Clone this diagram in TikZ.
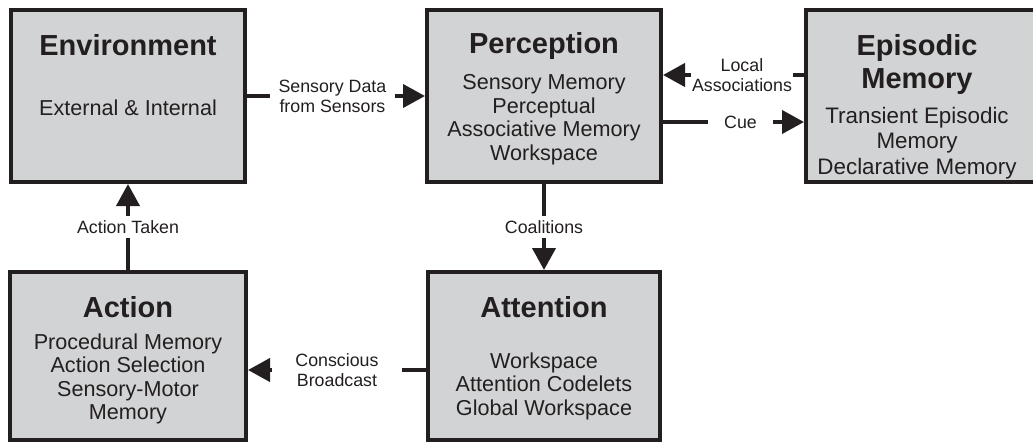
\documentclass[tikz,border=0pt]{standalone}
\usepackage{fontspec}
\setmainfont{Liberation Sans}
\usetikzlibrary{arrows.meta}
\definecolor{boxgray}{HTML}{D1D3D4}
\definecolor{ink}{HTML}{231F20}
\tikzset{
  block/.style={draw=ink, fill=boxgray, line width=4pt, inner sep=0pt},
  title/.style={font=\fontsize{29}{33}\selectfont\bfseries, text=ink, align=center, anchor=north, inner sep=0pt},
  body/.style={font=\fontsize{21.6}{23.6}\selectfont, text=ink, align=center, anchor=north, inner sep=0pt},
  flow/.style={draw=ink, line width=4pt, ->},
  tag/.style={fill=white, text=ink, font=\fontsize{17.8}{20}\selectfont, align=center, inner ysep=4.5pt}
}
\begin{document}
\begin{tikzpicture}[x=1pt, y=-1pt, >={Triangle[length=22pt,width=23pt]}]
   \path[use as bounding box, fill=white] (0,0) rectangle (1033,445);
   \node[block, minimum width=234pt, minimum height=172pt] (env) at (128,96) {};
   \node[block, minimum width=234pt, minimum height=172pt] (perc) at (544,96) {};
   \node[block, minimum width=232pt, minimum height=172pt] (epi) at (922,96) {};
   \node[block, minimum width=236pt, minimum height=168pt] (act) at (128,356) {};
   \node[block, minimum width=232pt, minimum height=168pt] (att) at (544,356) {};
   \node[title] (envtitle) at (128,34.6) {Environment};
   \node[body] (envtext) at (128,99.3) {External \& Internal};
   \node[title] (perctitle) at (544,32.6) {Perception};
   \node[body] (perctext) at (544,74.3) {Sensory Memory\\Perceptual\\Associative Memory\\Workspace};
   \node[title] (epititle) at (917,34.6) {Episodic\\Memory};
   \node[body, font=\fontsize{22.4}{25.4}\selectfont] (epitext) at (917,107) {Transient Episodic\\Memory\\Declarative Memory};
   \node[title] (acttitle) at (128,296.6) {Action};
   \node[body] (acttext) at (128,333.3) {Procedural Memory\\Action Selection\\Sensory-Motor\\Memory};
   \node[title] (atttitle) at (544,296.6) {Attention};
   \node[body] (atttext) at (544,352.3) {Workspace\\Attention Codelets\\Global Workspace};
   \draw[flow] (env) -- node[tag, inner xsep=9pt, pos=0.48] (sensory) {Sensory Data\\from Sensors} (perc);
   \draw[flow] ([yshift=21pt]epi.west) -- node[tag, inner xsep=1.5pt, pos=0.44] (local) {Local\\Associations} ([yshift=21pt]perc.east);
   \draw[flow] ([yshift=-26pt]perc.east) -- node[tag, inner xsep=16pt, pos=0.55] (cue) {Cue} ([yshift=-26pt]epi.west);
   \draw[flow] (perc) -- node[tag, inner xsep=3pt] (coal) {Coalitions} (att);
   \draw[flow] ([yshift=-14pt]att.west) -- node[tag, inner xsep=23pt] (broadcast) {Conscious\\Broadcast} ([yshift=-14pt]act.east);
   \draw[flow] (act) -- node[tag, inner xsep=3pt] (taken) {Action Taken} (env);
\end{tikzpicture}
\end{document}
